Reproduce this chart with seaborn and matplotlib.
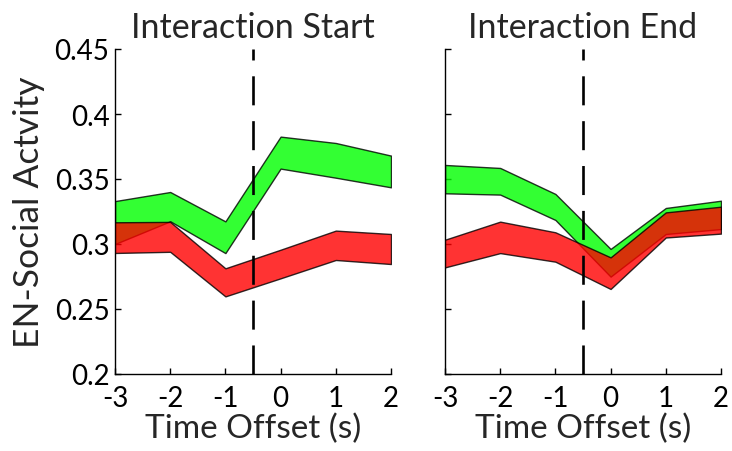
import matplotlib
matplotlib.use("Agg")
import matplotlib.pyplot as plt
import seaborn as sns
import numpy as np

# Time offsets (s) relative to the interaction event
offsets = [-3, -2, -1, 0, 1, 2]

# Interaction start: upper / lower band bounds
start_social_hi = [0.333, 0.340, 0.3174, 0.3826, 0.3777, 0.368]
start_social_lo = [0.300, 0.3175, 0.293, 0.358, 0.351, 0.3436]
start_nonsocial_hi = [0.3167, 0.3170, 0.2813, 0.2956, 0.3103, 0.3077]
start_nonsocial_lo = [0.2931, 0.294, 0.2597, 0.2736, 0.2877, 0.2846]

# Interaction end: upper / lower band bounds
end_social_hi = [0.3608, 0.3585, 0.3385, 0.2962, 0.3277, 0.3333]
end_social_lo = [0.339, 0.338, 0.3185, 0.2749, 0.3077, 0.3115]
end_nonsocial_hi = [0.3033, 0.3172, 0.309, 0.2897, 0.3243, 0.3287]
end_nonsocial_lo = [0.282, 0.293, 0.2864, 0.2654, 0.305, 0.308]

panel_titles = ["Interaction Start", "Interaction End"]
y_ticks = [0.2, 0.25, 0.3, 0.35, 0.4, 0.45]
y_tick_labels = ["0.2", "0.25", "0.3", "0.35", "0.4", "0.45"]
x_ticks = [-3, -2, -1, 0, 1, 2]
x_tick_labels = ["-3", "-2", "-1", "0", "1", "2"]
event_marker = -0.5

sns.set_theme(style="ticks")
plt.rcParams["font.family"] = ["Lato", "DejaVu Sans"]

W, H = 732, 452
fig = plt.figure(figsize=(W / 100, H / 100), dpi=100)
ax_start = fig.add_axes([115 / W, 1 - 375 / H, 276 / W, 325 / H])
ax_end = fig.add_axes([445 / W, 1 - 375 / H, 276 / W, 325 / H])

panels = [
    (ax_start, start_social_lo, start_social_hi, start_nonsocial_lo, start_nonsocial_hi),
    (ax_end, end_social_lo, end_social_hi, end_nonsocial_lo, end_nonsocial_hi),
]

title_size = 24.5
xlabel_size = 24
ylabel_size = 25.5
tick_size = 20

for i, (ax, s_lo, s_hi, n_lo, n_hi) in enumerate(panels):
    ax.fill_between(offsets, s_lo, s_hi, facecolor=(0, 1, 0), edgecolor="black",
                    alpha=0.8, linewidth=1.0, zorder=2)
    ax.fill_between(offsets, n_lo, n_hi, facecolor=(1, 0, 0), edgecolor="black",
                    alpha=0.8, linewidth=1.0, zorder=3)
    ax.axvline(event_marker, color="black", linewidth=1.9, dashes=(11, 6), zorder=4)

    ax.set_xlim(-3, 2)
    ax.set_ylim(0.2, 0.45)
    ax.set_xticks(x_ticks)
    ax.set_xticklabels(x_tick_labels)
    ax.set_yticks(y_ticks)
    if i == 0:
        ax.set_yticklabels(y_tick_labels)
        ax.set_ylabel("EN-Social Actvity", fontsize=ylabel_size, labelpad=7)
    else:
        ax.set_yticklabels([])
    ax.set_xlabel("Time Offset (s)", fontsize=xlabel_size, labelpad=1)
    ax.set_title(panel_titles[i], fontsize=title_size, pad=9)
    ax.tick_params(direction="in", length=4, width=1, labelsize=tick_size,
                   colors="black")
    ax.tick_params(axis="y", pad=4)
    ax.tick_params(axis="x", pad=8)
    for side in ("left", "bottom"):
        ax.spines[side].set_color("black")
        ax.spines[side].set_linewidth(1.0)
    sns.despine(ax=ax)
    ax.set_facecolor("white")

fig.savefig("out.png", dpi=100, facecolor="white")
